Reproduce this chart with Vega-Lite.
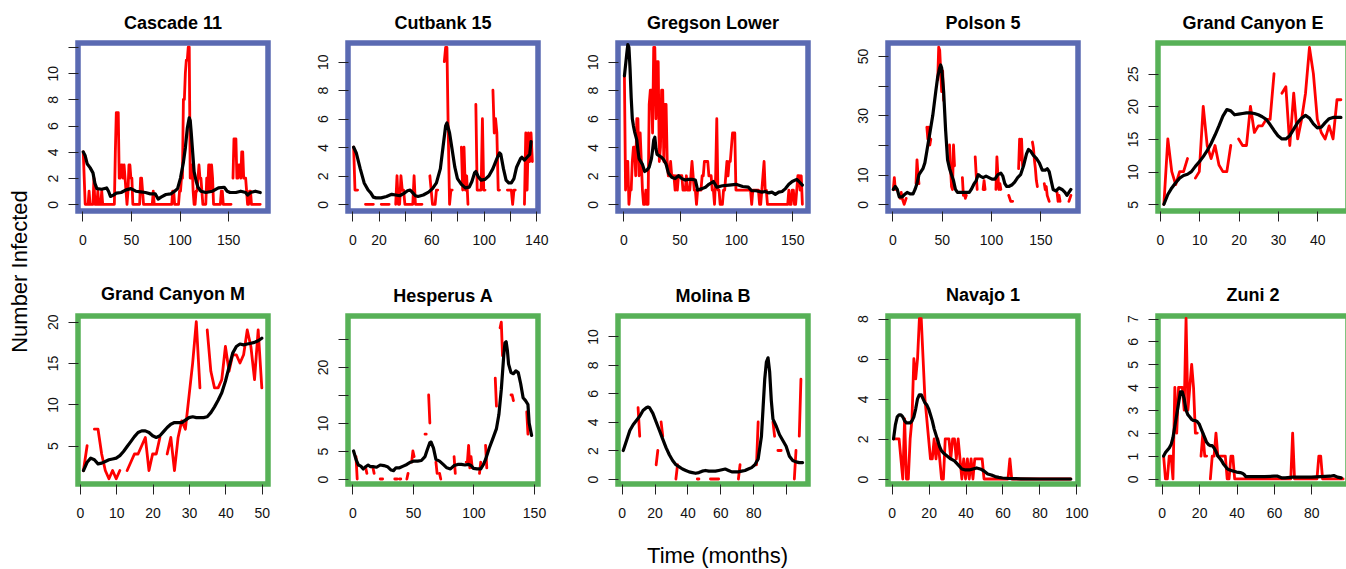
{
"$schema": "https://vega.github.io/schema/vega-lite/v6.json",
"background": "white",
"padding": {"left": 5, "top": 12, "right": 0, "bottom": 0},
"autosize": {"type": "pad"},
"columns": 5,
"spacing": {"row": 105, "column": 80},
"bounds": "flush",
"datasets": {
"r1": [{"t":1,"v":4},{"t":2,"v":2},{"t":3,"v":0},{"t":6,"v":0},{"t":7,"v":1},{"t":8,"v":0},{"t":11,"v":0},{"t":12,"v":2},{"t":13,"v":0},{"t":15,"v":0},{"t":16,"v":1},{"t":17,"v":0},{"t":19,"v":0},{"t":20,"v":1},{"t":21,"v":0},{"t":33,"v":0},{"t":34,"v":4},{"t":35,"v":7},{"t":36,"v":7},{"t":37,"v":7},{"t":38,"v":2},{"t":39,"v":2},{"t":40,"v":3},{"t":41,"v":3},{"t":42,"v":2},{"t":43,"v":3},{"t":44,"v":2},{"t":45,"v":1},{"t":46,"v":0},{"t":47,"v":1},{"t":48,"v":3},{"t":49,"v":3},{"t":50,"v":2},{"t":51,"v":2},{"t":52,"v":0},{"t":59,"v":0},{"t":60,"v":2},{"t":61,"v":2},{"t":62,"v":1},{"t":63,"v":0},{"t":72,"v":0},{"t":73,"v":1},{"t":74,"v":0},{"t":92,"v":0},{"t":93,"v":1},{"t":94,"v":1},{"t":95,"v":0},{"t":99,"v":0},{"t":100,"v":1},{"t":101,"v":1},{"t":102,"v":2},{"t":103,"v":2},{"t":104,"v":8},{"t":105,"v":8},{"t":106,"v":10},{"t":107,"v":11},{"t":108,"v":11},{"t":109,"v":12},{"t":110,"v":12},{"t":111,"v":2},{"t":112,"v":2},{"t":113,"v":3},{"t":114,"v":1},{"t":115,"v":0},{"t":116,"v":0},{"t":117,"v":1},{"t":118,"v":1},{"t":119,"v":2},{"t":120,"v":3},{"t":121,"v":2},{"t":122,"v":2},{"t":123,"v":1},{"t":124,"v":0},{"t":127,"v":0},{"t":128,"v":2},{"t":129,"v":1},{"t":130,"v":3},{"t":131,"v":3},{"t":132,"v":1},{"t":133,"v":3},{"t":134,"v":2},{"t":135,"v":0},{"t":142,"v":0},{"t":143,"v":1},{"t":144,"v":1},{"t":145,"v":0},{"t":153,"v":0},{"t":154,"v":null},{"t":155,"v":2},{"t":156,"v":5},{"t":157,"v":5},{"t":158,"v":5},{"t":159,"v":2},{"t":160,"v":2},{"t":161,"v":3},{"t":162,"v":3},{"t":163,"v":2},{"t":164,"v":4},{"t":165,"v":4},{"t":166,"v":2},{"t":167,"v":2},{"t":168,"v":2},{"t":169,"v":1},{"t":170,"v":0},{"t":171,"v":0},{"t":172,"v":1},{"t":173,"v":1},{"t":174,"v":0},{"t":183,"v":0}],
"b1": [{"t":1,"v":4},{"t":3,"v":3.7},{"t":5,"v":3.1},{"t":8,"v":2.8},{"t":11,"v":2.4},{"t":13,"v":1.6},{"t":15,"v":1.2},{"t":20,"v":1.15},{"t":25,"v":1.25},{"t":27,"v":1.0},{"t":29,"v":0.6},{"t":32,"v":0.7},{"t":35,"v":0.85},{"t":40,"v":0.9},{"t":45,"v":1.1},{"t":50,"v":1.2},{"t":55,"v":1.0},{"t":60,"v":0.95},{"t":65,"v":0.9},{"t":70,"v":0.8},{"t":75,"v":0.8},{"t":78,"v":0.4},{"t":81,"v":0.55},{"t":86,"v":0.75},{"t":91,"v":0.8},{"t":95,"v":1.0},{"t":98,"v":1.2},{"t":101,"v":2.0},{"t":104,"v":3.2},{"t":106,"v":4.3},{"t":108,"v":5.8},{"t":110,"v":6.6},{"t":111,"v":6.4},{"t":112,"v":5.5},{"t":113,"v":4.5},{"t":115,"v":2.5},{"t":117,"v":1.8},{"t":119,"v":1.3},{"t":122,"v":1.0},{"t":127,"v":0.9},{"t":134,"v":1.0},{"t":140,"v":1.25},{"t":146,"v":1.3},{"t":149,"v":1.0},{"t":152,"v":0.9},{"t":158,"v":0.9},{"t":163,"v":1.0},{"t":168,"v":0.9},{"t":170,"v":0.7},{"t":173,"v":0.9},{"t":178,"v":1.0},{"t":183,"v":0.9}],
"r2": [{"t":1,"v":4},{"t":2,"v":1},{"t":3,"v":1},{"t":4,"v":1},{"t":5,"v":null},{"t":10,"v":0},{"t":16,"v":0},{"t":17,"v":null},{"t":22,"v":0},{"t":28,"v":0},{"t":29,"v":null},{"t":33,"v":0},{"t":34,"v":2},{"t":35,"v":0},{"t":36,"v":0},{"t":37,"v":2},{"t":38,"v":1},{"t":39,"v":1},{"t":40,"v":0},{"t":46,"v":0},{"t":47,"v":2},{"t":48,"v":0},{"t":53,"v":0},{"t":54,"v":null},{"t":59,"v":2},{"t":60,"v":1},{"t":61,"v":0},{"t":63,"v":0},{"t":64,"v":1},{"t":65,"v":1},{"t":66,"v":null},{"t":70,"v":10},{"t":71,"v":11},{"t":72,"v":11},{"t":73,"v":5},{"t":74,"v":0},{"t":75,"v":1},{"t":76,"v":1},{"t":77,"v":null},{"t":83,"v":4},{"t":84,"v":1},{"t":85,"v":4},{"t":86,"v":1},{"t":87,"v":2},{"t":88,"v":0},{"t":89,"v":null},{"t":94,"v":7},{"t":95,"v":1},{"t":96,"v":1},{"t":97,"v":1},{"t":98,"v":1},{"t":99,"v":6},{"t":100,"v":1},{"t":101,"v":1},{"t":102,"v":null},{"t":107,"v":8},{"t":108,"v":5},{"t":109,"v":6},{"t":110,"v":5},{"t":111,"v":1},{"t":112,"v":1},{"t":113,"v":null},{"t":118,"v":1},{"t":121,"v":1},{"t":122,"v":0},{"t":123,"v":1},{"t":124,"v":1},{"t":125,"v":null},{"t":131,"v":0},{"t":132,"v":5},{"t":133,"v":1},{"t":134,"v":5},{"t":135,"v":3},{"t":136,"v":5},{"t":137,"v":3}],
"b2": [{"t":1,"v":4},{"t":3,"v":3.6},{"t":6,"v":2.5},{"t":9,"v":1.5},{"t":12,"v":1.0},{"t":14,"v":0.8},{"t":16,"v":0.5},{"t":18,"v":0.45},{"t":22,"v":0.45},{"t":26,"v":0.55},{"t":30,"v":0.7},{"t":33,"v":0.65},{"t":36,"v":0.6},{"t":39,"v":0.75},{"t":42,"v":0.95},{"t":44,"v":1.0},{"t":46,"v":0.8},{"t":48,"v":0.6},{"t":50,"v":0.55},{"t":54,"v":0.65},{"t":58,"v":0.85},{"t":61,"v":1.1},{"t":64,"v":1.5},{"t":67,"v":2.5},{"t":69,"v":4.0},{"t":71,"v":5.5},{"t":72,"v":5.7},{"t":74,"v":5.0},{"t":76,"v":3.8},{"t":78,"v":2.6},{"t":80,"v":1.8},{"t":83,"v":1.4},{"t":86,"v":1.15},{"t":89,"v":1.2},{"t":91,"v":1.6},{"t":93,"v":2.2},{"t":94,"v":2.3},{"t":96,"v":1.9},{"t":98,"v":1.7},{"t":101,"v":1.75},{"t":104,"v":2.0},{"t":107,"v":2.5},{"t":110,"v":3.2},{"t":112,"v":3.6},{"t":113,"v":3.5},{"t":115,"v":2.5},{"t":117,"v":1.7},{"t":119,"v":1.5},{"t":121,"v":1.5},{"t":123,"v":1.8},{"t":125,"v":2.6},{"t":128,"v":3.2},{"t":129,"v":3.3},{"t":131,"v":3.1},{"t":133,"v":3.3},{"t":135,"v":3.5},{"t":136,"v":4.4}],
"r3": [{"t":1,"v":9},{"t":2,"v":1},{"t":3,"v":3},{"t":4,"v":3},{"t":5,"v":0},{"t":6,"v":1},{"t":7,"v":1},{"t":8,"v":3},{"t":9,"v":4},{"t":10,"v":4},{"t":11,"v":2},{"t":12,"v":6},{"t":13,"v":6},{"t":14,"v":2},{"t":15,"v":5},{"t":16,"v":3},{"t":17,"v":1},{"t":18,"v":0},{"t":19,"v":0},{"t":20,"v":1},{"t":21,"v":0},{"t":22,"v":0},{"t":23,"v":7},{"t":24,"v":8},{"t":25,"v":8},{"t":26,"v":5},{"t":27,"v":11},{"t":28,"v":11},{"t":29,"v":6},{"t":30,"v":10},{"t":31,"v":10},{"t":32,"v":3},{"t":33,"v":4},{"t":34,"v":8},{"t":35,"v":8},{"t":36,"v":3},{"t":37,"v":7},{"t":38,"v":7},{"t":39,"v":3},{"t":40,"v":2},{"t":41,"v":2},{"t":42,"v":3},{"t":43,"v":2},{"t":44,"v":2},{"t":45,"v":2},{"t":46,"v":1},{"t":47,"v":2},{"t":48,"v":1},{"t":49,"v":2},{"t":50,"v":2},{"t":51,"v":2},{"t":52,"v":2},{"t":53,"v":1},{"t":54,"v":1},{"t":55,"v":1},{"t":56,"v":2},{"t":57,"v":1},{"t":58,"v":1},{"t":59,"v":1},{"t":60,"v":2},{"t":61,"v":3},{"t":62,"v":2},{"t":63,"v":1},{"t":64,"v":1},{"t":65,"v":0},{"t":66,"v":1},{"t":67,"v":1},{"t":68,"v":1},{"t":69,"v":1},{"t":70,"v":2},{"t":71,"v":2},{"t":72,"v":3},{"t":73,"v":3},{"t":74,"v":3},{"t":75,"v":3},{"t":76,"v":2},{"t":77,"v":2},{"t":78,"v":2},{"t":79,"v":1},{"t":80,"v":1},{"t":81,"v":0},{"t":82,"v":2},{"t":83,"v":6},{"t":84,"v":1},{"t":85,"v":1},{"t":86,"v":0},{"t":88,"v":0},{"t":89,"v":1},{"t":90,"v":1},{"t":91,"v":2},{"t":92,"v":3},{"t":93,"v":2},{"t":94,"v":3},{"t":95,"v":3},{"t":96,"v":4},{"t":97,"v":5},{"t":98,"v":5},{"t":99,"v":5},{"t":100,"v":1},{"t":113,"v":1},{"t":114,"v":0},{"t":115,"v":1},{"t":120,"v":1},{"t":121,"v":0},{"t":122,"v":0},{"t":123,"v":1},{"t":124,"v":2},{"t":125,"v":3},{"t":126,"v":1},{"t":127,"v":1},{"t":128,"v":0},{"t":146,"v":0},{"t":147,"v":1},{"t":148,"v":0},{"t":149,"v":0},{"t":150,"v":1},{"t":151,"v":1},{"t":152,"v":0},{"t":153,"v":0},{"t":154,"v":1},{"t":155,"v":2},{"t":156,"v":2},{"t":157,"v":1},{"t":158,"v":2},{"t":159,"v":0}],
"b3": [{"t":1,"v":9},{"t":3,"v":10.5},{"t":4,"v":11.2},{"t":5,"v":11},{"t":6,"v":9.5},{"t":7,"v":7.5},{"t":8,"v":6},{"t":9,"v":5.5},{"t":10,"v":5.1},{"t":12,"v":4.5},{"t":13,"v":3.8},{"t":14,"v":3.2},{"t":17,"v":2.8},{"t":19,"v":2.3},{"t":21,"v":2.4},{"t":23,"v":2.6},{"t":25,"v":3.2},{"t":26,"v":3.8},{"t":27,"v":4.5},{"t":28,"v":4.7},{"t":29,"v":3.9},{"t":30,"v":3.5},{"t":32,"v":3.4},{"t":34,"v":3.3},{"t":36,"v":3.1},{"t":38,"v":2.8},{"t":40,"v":2.2},{"t":43,"v":1.9},{"t":46,"v":1.8},{"t":49,"v":2.0},{"t":52,"v":1.8},{"t":55,"v":1.7},{"t":58,"v":1.75},{"t":61,"v":1.75},{"t":64,"v":1.7},{"t":66,"v":1.0},{"t":70,"v":1.1},{"t":73,"v":1.2},{"t":76,"v":1.4},{"t":80,"v":1.6},{"t":83,"v":1.2},{"t":88,"v":1.3},{"t":94,"v":1.35},{"t":100,"v":1.4},{"t":106,"v":1.25},{"t":111,"v":1.2},{"t":114,"v":0.95},{"t":118,"v":0.95},{"t":123,"v":0.85},{"t":126,"v":0.9},{"t":129,"v":0.8},{"t":132,"v":0.85},{"t":135,"v":0.7},{"t":138,"v":0.85},{"t":141,"v":0.9},{"t":144,"v":1.1},{"t":147,"v":1.4},{"t":150,"v":1.6},{"t":154,"v":1.75},{"t":156,"v":1.6},{"t":159,"v":1.35}],
"r4": [{"t":1,"v":5},{"t":2,"v":9},{"t":3,"v":5},{"t":4,"v":null},{"t":7,"v":3},{"t":8,"v":2},{"t":9,"v":4},{"t":10,"v":2},{"t":11,"v":1},{"t":12,"v":0},{"t":13,"v":1},{"t":14,"v":2},{"t":15,"v":null},{"t":24,"v":7},{"t":25,"v":15},{"t":26,"v":10},{"t":27,"v":7},{"t":28,"v":null},{"t":35,"v":26},{"t":36,"v":22},{"t":37,"v":26},{"t":38,"v":20},{"t":39,"v":22},{"t":40,"v":null},{"t":46,"v":42},{"t":47,"v":53},{"t":48,"v":52},{"t":49,"v":45},{"t":50,"v":38},{"t":51,"v":45},{"t":52,"v":35},{"t":53,"v":null},{"t":58,"v":20},{"t":59,"v":12},{"t":60,"v":6},{"t":61,"v":5},{"t":62,"v":20},{"t":63,"v":13},{"t":64,"v":null},{"t":71,"v":9},{"t":72,"v":3},{"t":73,"v":4},{"t":74,"v":2},{"t":75,"v":3},{"t":76,"v":null},{"t":84,"v":16},{"t":85,"v":10},{"t":86,"v":5},{"t":87,"v":null},{"t":92,"v":5},{"t":93,"v":8},{"t":94,"v":5},{"t":95,"v":null},{"t":105,"v":5},{"t":106,"v":16},{"t":107,"v":10},{"t":108,"v":5},{"t":109,"v":7},{"t":110,"v":5},{"t":111,"v":null},{"t":118,"v":3},{"t":119,"v":2},{"t":120,"v":1},{"t":121,"v":1},{"t":122,"v":1},{"t":123,"v":null},{"t":128,"v":12},{"t":129,"v":22},{"t":130,"v":15},{"t":131,"v":22},{"t":132,"v":13},{"t":133,"v":null},{"t":142,"v":21},{"t":143,"v":19},{"t":144,"v":15},{"t":145,"v":12},{"t":146,"v":8},{"t":147,"v":6},{"t":148,"v":null},{"t":154,"v":7},{"t":155,"v":5},{"t":156,"v":6},{"t":157,"v":3},{"t":158,"v":2},{"t":159,"v":1},{"t":160,"v":null},{"t":167,"v":4},{"t":168,"v":1},{"t":169,"v":3},{"t":170,"v":1},{"t":171,"v":null},{"t":179,"v":1},{"t":180,"v":2},{"t":181,"v":3}],
"b4": [{"t":1,"v":5},{"t":3,"v":6},{"t":5,"v":5},{"t":7,"v":2.5},{"t":10,"v":2.5},{"t":13,"v":3.5},{"t":15,"v":4},{"t":18,"v":3.5},{"t":21,"v":3.5},{"t":23,"v":5},{"t":25,"v":7},{"t":27,"v":10},{"t":29,"v":11},{"t":31,"v":12},{"t":33,"v":14},{"t":35,"v":18},{"t":38,"v":24},{"t":41,"v":30},{"t":44,"v":38},{"t":46,"v":43},{"t":48,"v":46},{"t":49,"v":47},{"t":50,"v":46},{"t":52,"v":38},{"t":54,"v":25},{"t":56,"v":15},{"t":58,"v":12},{"t":60,"v":10},{"t":62,"v":8},{"t":64,"v":5},{"t":66,"v":4},{"t":70,"v":4},{"t":74,"v":4},{"t":78,"v":4},{"t":80,"v":5},{"t":83,"v":7},{"t":85,"v":8},{"t":87,"v":10},{"t":89,"v":9.5},{"t":92,"v":9},{"t":95,"v":9.5},{"t":98,"v":9},{"t":101,"v":8.5},{"t":104,"v":8.5},{"t":107,"v":10},{"t":110,"v":10.5},{"t":112,"v":9.5},{"t":114,"v":7},{"t":116,"v":6},{"t":118,"v":6},{"t":121,"v":6.5},{"t":124,"v":7.5},{"t":127,"v":9},{"t":130,"v":10},{"t":133,"v":13},{"t":136,"v":17},{"t":138,"v":18.5},{"t":140,"v":18},{"t":143,"v":16.5},{"t":146,"v":15.5},{"t":149,"v":14},{"t":152,"v":11.5},{"t":155,"v":11.5},{"t":157,"v":12},{"t":159,"v":11},{"t":161,"v":8},{"t":163,"v":5},{"t":166,"v":4.5},{"t":169,"v":5.5},{"t":172,"v":5},{"t":175,"v":4},{"t":177,"v":3},{"t":179,"v":4},{"t":181,"v":5}],
"r5": [{"t":1,"v":5},{"t":2,"v":15},{"t":3,"v":10},{"t":4,"v":8},{"t":5,"v":10},{"t":6,"v":10},{"t":7,"v":12},{"t":8,"v":null},{"t":9,"v":9},{"t":10,"v":10},{"t":11,"v":20},{"t":12,"v":14},{"t":13,"v":12},{"t":14,"v":14},{"t":15,"v":11},{"t":16,"v":10},{"t":17,"v":10},{"t":18,"v":14},{"t":19,"v":null},{"t":20,"v":15},{"t":21,"v":14},{"t":22,"v":14},{"t":23,"v":20},{"t":24,"v":16},{"t":25,"v":17},{"t":26,"v":17},{"t":27,"v":18},{"t":28,"v":18},{"t":29,"v":25},{"t":30,"v":null},{"t":31,"v":22},{"t":32,"v":23},{"t":33,"v":14},{"t":34,"v":22},{"t":35,"v":15},{"t":36,"v":18},{"t":37,"v":22},{"t":38,"v":29},{"t":39,"v":25},{"t":40,"v":18},{"t":41,"v":16},{"t":42,"v":15},{"t":43,"v":17},{"t":44,"v":15},{"t":45,"v":21},{"t":46,"v":21}],
"b5": [{"t":1,"v":5},{"t":2,"v":6.5},{"t":3,"v":7.5},{"t":4,"v":8.3},{"t":5,"v":9},{"t":6,"v":9.4},{"t":7,"v":9.6},{"t":8,"v":10},{"t":9,"v":10.8},{"t":10,"v":11.5},{"t":11,"v":12.3},{"t":12,"v":13.2},{"t":13,"v":14.3},{"t":14,"v":15.6},{"t":15,"v":17},{"t":16,"v":18.5},{"t":17,"v":19.5},{"t":18,"v":19.3},{"t":19,"v":18.7},{"t":20,"v":18.8},{"t":21,"v":18.9},{"t":22,"v":19},{"t":23,"v":19},{"t":24,"v":18.9},{"t":25,"v":18.7},{"t":26,"v":18.4},{"t":27,"v":18},{"t":28,"v":17.2},{"t":29,"v":16.3},{"t":30,"v":15.5},{"t":31,"v":15},{"t":32,"v":15},{"t":33,"v":15.5},{"t":34,"v":16.5},{"t":35,"v":17.5},{"t":36,"v":18.2},{"t":37,"v":18.6},{"t":38,"v":18.2},{"t":39,"v":17.3},{"t":40,"v":16.7},{"t":41,"v":16.8},{"t":42,"v":17.5},{"t":43,"v":18.1},{"t":44,"v":18.3},{"t":45,"v":18.3},{"t":46,"v":18.3}],
"r6": [{"t":1,"v":2},{"t":2,"v":5},{"t":3,"v":null},{"t":4,"v":7},{"t":5,"v":7},{"t":6,"v":4},{"t":7,"v":2},{"t":8,"v":1},{"t":9,"v":2},{"t":10,"v":1},{"t":11,"v":2},{"t":12,"v":null},{"t":13,"v":2},{"t":14,"v":3},{"t":15,"v":4},{"t":16,"v":4},{"t":17,"v":5},{"t":18,"v":6},{"t":19,"v":2},{"t":20,"v":4},{"t":21,"v":4},{"t":22,"v":6},{"t":23,"v":null},{"t":24,"v":4},{"t":25,"v":6},{"t":26,"v":2},{"t":27,"v":6},{"t":28,"v":8},{"t":29,"v":7},{"t":30,"v":11},{"t":31,"v":15},{"t":32,"v":20},{"t":33,"v":12},{"t":34,"v":null},{"t":35,"v":19},{"t":36,"v":14},{"t":37,"v":12},{"t":38,"v":12},{"t":39,"v":13},{"t":40,"v":17},{"t":41,"v":14},{"t":42,"v":16},{"t":43,"v":16},{"t":44,"v":15},{"t":45,"v":16},{"t":46,"v":19},{"t":47,"v":17},{"t":48,"v":13},{"t":49,"v":19},{"t":50,"v":12}],
"b6": [{"t":1,"v":2},{"t":2,"v":3},{"t":3,"v":3.5},{"t":4,"v":3.3},{"t":5,"v":2.8},{"t":6,"v":2.9},{"t":7,"v":3.1},{"t":8,"v":3.3},{"t":9,"v":3.4},{"t":10,"v":3.5},{"t":11,"v":3.8},{"t":12,"v":4.3},{"t":13,"v":4.9},{"t":14,"v":5.5},{"t":15,"v":6.1},{"t":16,"v":6.6},{"t":17,"v":6.8},{"t":18,"v":6.8},{"t":19,"v":6.6},{"t":20,"v":6.2},{"t":21,"v":6.0},{"t":22,"v":6.2},{"t":23,"v":6.7},{"t":24,"v":7.2},{"t":25,"v":7.6},{"t":26,"v":7.8},{"t":27,"v":7.8},{"t":28,"v":7.8},{"t":29,"v":8.1},{"t":30,"v":8.4},{"t":31,"v":8.5},{"t":32,"v":8.4},{"t":33,"v":8.4},{"t":34,"v":8.4},{"t":35,"v":8.5},{"t":36,"v":9.0},{"t":37,"v":9.7},{"t":38,"v":10.5},{"t":39,"v":11.4},{"t":40,"v":12.8},{"t":41,"v":14.5},{"t":42,"v":16.2},{"t":43,"v":17.0},{"t":44,"v":17.3},{"t":45,"v":17.2},{"t":46,"v":17.3},{"t":47,"v":17.4},{"t":48,"v":17.5},{"t":49,"v":17.7},{"t":50,"v":18}],
"r7": [{"t":3,"v":4},{"t":4,"v":0},{"t":5,"v":null},{"t":11,"v":2},{"t":12,"v":1},{"t":13,"v":null},{"t":17,"v":2},{"t":18,"v":1},{"t":19,"v":null},{"t":23,"v":0},{"t":25,"v":0},{"t":26,"v":null},{"t":35,"v":0},{"t":37,"v":0},{"t":38,"v":null},{"t":39,"v":0},{"t":40,"v":0},{"t":41,"v":null},{"t":45,"v":0},{"t":46,"v":1},{"t":47,"v":null},{"t":49,"v":3},{"t":50,"v":5},{"t":51,"v":4},{"t":52,"v":null},{"t":60,"v":8},{"t":61,"v":8},{"t":62,"v":null},{"t":63,"v":15},{"t":64,"v":10},{"t":65,"v":null},{"t":69,"v":3},{"t":70,"v":1},{"t":71,"v":null},{"t":72,"v":1},{"t":73,"v":0},{"t":74,"v":null},{"t":84,"v":4},{"t":85,"v":1},{"t":86,"v":null},{"t":94,"v":3},{"t":95,"v":3},{"t":96,"v":6},{"t":97,"v":2},{"t":98,"v":4},{"t":99,"v":2},{"t":100,"v":null},{"t":105,"v":1},{"t":106,"v":3},{"t":107,"v":null},{"t":110,"v":6},{"t":111,"v":2},{"t":112,"v":null},{"t":118,"v":18},{"t":119,"v":13},{"t":120,"v":null},{"t":122,"v":27},{"t":123,"v":28},{"t":124,"v":22},{"t":125,"v":null},{"t":131,"v":15},{"t":132,"v":15},{"t":133,"v":14},{"t":134,"v":null},{"t":144,"v":12},{"t":145,"v":8}],
"b7": [{"t":1,"v":5},{"t":3,"v":3.5},{"t":5,"v":2.5},{"t":7,"v":2.3},{"t":9,"v":1.8},{"t":11,"v":2.2},{"t":13,"v":2.5},{"t":15,"v":2.2},{"t":17,"v":2.2},{"t":20,"v":2.1},{"t":23,"v":2.5},{"t":26,"v":2.4},{"t":29,"v":2.2},{"t":32,"v":1.6},{"t":34,"v":1.5},{"t":36,"v":2.0},{"t":39,"v":2.0},{"t":42,"v":2.3},{"t":45,"v":2.6},{"t":48,"v":3.0},{"t":51,"v":3.2},{"t":54,"v":3.2},{"t":57,"v":3.3},{"t":60,"v":4.0},{"t":62,"v":5.3},{"t":64,"v":6.5},{"t":65,"v":6.6},{"t":67,"v":5.5},{"t":69,"v":3.5},{"t":72,"v":3.2},{"t":75,"v":2.6},{"t":78,"v":2.0},{"t":81,"v":1.8},{"t":84,"v":2.4},{"t":87,"v":2.6},{"t":90,"v":2.6},{"t":93,"v":2.5},{"t":96,"v":2.6},{"t":98,"v":2.4},{"t":100,"v":1.9},{"t":103,"v":1.8},{"t":106,"v":1.8},{"t":108,"v":2.5},{"t":110,"v":3.5},{"t":113,"v":5.5},{"t":116,"v":7.2},{"t":119,"v":9.0},{"t":121,"v":11.5},{"t":123,"v":16},{"t":125,"v":22},{"t":126,"v":24.3},{"t":127,"v":24.5},{"t":128,"v":23},{"t":129,"v":20.5},{"t":131,"v":19},{"t":133,"v":18.8},{"t":135,"v":19.3},{"t":137,"v":19.0},{"t":139,"v":17},{"t":141,"v":14.5},{"t":143,"v":14.0},{"t":145,"v":13.3},{"t":146,"v":10},{"t":148,"v":7.8}],
"r8": [{"t":10,"v":5},{"t":11,"v":3},{"t":12,"v":null},{"t":21,"v":1},{"t":22,"v":2},{"t":23,"v":null},{"t":24,"v":4},{"t":25,"v":3},{"t":26,"v":null},{"t":33,"v":0},{"t":34,"v":1},{"t":35,"v":null},{"t":46,"v":0},{"t":47,"v":0},{"t":48,"v":null},{"t":54,"v":0},{"t":59,"v":0},{"t":60,"v":null},{"t":71,"v":0},{"t":72,"v":1},{"t":73,"v":null},{"t":82,"v":1},{"t":83,"v":4},{"t":84,"v":null},{"t":92,"v":4},{"t":93,"v":3},{"t":94,"v":null},{"t":95,"v":2},{"t":97,"v":2},{"t":98,"v":null},{"t":105,"v":0},{"t":106,"v":2},{"t":107,"v":null},{"t":108,"v":3},{"t":109,"v":7}],
"b8": [{"t":1,"v":2},{"t":3,"v":2.7},{"t":5,"v":3.4},{"t":7,"v":3.8},{"t":9,"v":4.1},{"t":11,"v":4.4},{"t":13,"v":4.8},{"t":15,"v":5.0},{"t":16,"v":5.05},{"t":17,"v":5.0},{"t":19,"v":4.6},{"t":21,"v":4.0},{"t":23,"v":3.4},{"t":25,"v":2.8},{"t":27,"v":2.2},{"t":29,"v":1.7},{"t":31,"v":1.3},{"t":33,"v":1.0},{"t":35,"v":0.85},{"t":37,"v":0.7},{"t":39,"v":0.6},{"t":41,"v":0.5},{"t":43,"v":0.45},{"t":45,"v":0.4},{"t":47,"v":0.45},{"t":49,"v":0.55},{"t":51,"v":0.6},{"t":53,"v":0.55},{"t":55,"v":0.55},{"t":57,"v":0.55},{"t":59,"v":0.6},{"t":61,"v":0.65},{"t":63,"v":0.7},{"t":65,"v":0.6},{"t":67,"v":0.5},{"t":69,"v":0.5},{"t":71,"v":0.5},{"t":73,"v":0.55},{"t":75,"v":0.6},{"t":77,"v":0.7},{"t":79,"v":0.8},{"t":81,"v":1.0},{"t":83,"v":1.4},{"t":85,"v":3.0},{"t":86,"v":5.0},{"t":87,"v":7.0},{"t":88,"v":8.2},{"t":89,"v":8.5},{"t":90,"v":7.5},{"t":91,"v":5.5},{"t":92,"v":4.2},{"t":94,"v":3.7},{"t":96,"v":3.1},{"t":98,"v":2.7},{"t":100,"v":2.3},{"t":102,"v":1.6},{"t":104,"v":1.3},{"t":106,"v":1.2},{"t":108,"v":1.15},{"t":110,"v":1.15}],
"r9": [{"t":1,"v":2},{"t":2,"v":2},{"t":3,"v":2},{"t":4,"v":2},{"t":5,"v":1},{"t":6,"v":0},{"t":7,"v":3},{"t":8,"v":0},{"t":9,"v":0},{"t":10,"v":2},{"t":11,"v":3},{"t":12,"v":6},{"t":13,"v":5},{"t":14,"v":6},{"t":15,"v":8},{"t":16,"v":8},{"t":17,"v":6},{"t":18,"v":4},{"t":19,"v":3},{"t":20,"v":2},{"t":21,"v":1},{"t":22,"v":1},{"t":23,"v":2},{"t":24,"v":1},{"t":25,"v":2},{"t":26,"v":1},{"t":27,"v":0},{"t":28,"v":0},{"t":29,"v":2},{"t":30,"v":2},{"t":31,"v":2},{"t":32,"v":1},{"t":33,"v":2},{"t":34,"v":2},{"t":35,"v":1},{"t":36,"v":2},{"t":37,"v":1},{"t":38,"v":0},{"t":39,"v":1},{"t":40,"v":0},{"t":41,"v":1},{"t":42,"v":0},{"t":43,"v":1},{"t":44,"v":0},{"t":45,"v":1},{"t":46,"v":1},{"t":47,"v":1},{"t":48,"v":1},{"t":49,"v":1},{"t":50,"v":0},{"t":63,"v":0},{"t":64,"v":1},{"t":65,"v":0},{"t":97,"v":0}],
"b9": [{"t":1,"v":2},{"t":2,"v":2.7},{"t":3,"v":3.1},{"t":4,"v":3.2},{"t":5,"v":3.2},{"t":6,"v":3.1},{"t":7,"v":2.9},{"t":8,"v":2.8},{"t":9,"v":2.8},{"t":10,"v":2.8},{"t":11,"v":2.9},{"t":12,"v":3.1},{"t":13,"v":3.5},{"t":14,"v":4.0},{"t":15,"v":4.2},{"t":16,"v":4.2},{"t":17,"v":4.0},{"t":18,"v":3.8},{"t":19,"v":3.7},{"t":20,"v":3.5},{"t":21,"v":3.2},{"t":22,"v":2.9},{"t":23,"v":2.5},{"t":24,"v":2.2},{"t":25,"v":1.9},{"t":26,"v":1.6},{"t":27,"v":1.4},{"t":28,"v":1.3},{"t":30,"v":1.15},{"t":32,"v":1.0},{"t":34,"v":0.9},{"t":36,"v":0.7},{"t":38,"v":0.5},{"t":40,"v":0.45},{"t":42,"v":0.45},{"t":44,"v":0.5},{"t":46,"v":0.55},{"t":48,"v":0.5},{"t":50,"v":0.4},{"t":52,"v":0.25},{"t":54,"v":0.2},{"t":56,"v":0.12},{"t":58,"v":0.08},{"t":60,"v":0.05},{"t":63,"v":0.03},{"t":66,"v":0.02},{"t":70,"v":0.01},{"t":80,"v":0},{"t":97,"v":0}],
"r10": [{"t":1,"v":1},{"t":2,"v":0},{"t":3,"v":0},{"t":4,"v":1},{"t":5,"v":1},{"t":6,"v":0},{"t":7,"v":4},{"t":8,"v":2},{"t":9,"v":4},{"t":10,"v":4},{"t":11,"v":4},{"t":12,"v":3},{"t":13,"v":7},{"t":14,"v":3},{"t":15,"v":4},{"t":16,"v":5},{"t":17,"v":4},{"t":18,"v":2},{"t":19,"v":2},{"t":20,"v":null},{"t":21,"v":1},{"t":22,"v":2},{"t":23,"v":1},{"t":24,"v":1},{"t":25,"v":null},{"t":26,"v":0},{"t":27,"v":1},{"t":28,"v":1},{"t":29,"v":2},{"t":30,"v":1},{"t":31,"v":1},{"t":32,"v":1},{"t":33,"v":1},{"t":34,"v":1},{"t":35,"v":0},{"t":36,"v":0},{"t":37,"v":1},{"t":38,"v":1},{"t":39,"v":0},{"t":69,"v":0},{"t":70,"v":2},{"t":71,"v":0},{"t":83,"v":0},{"t":84,"v":1},{"t":85,"v":1},{"t":86,"v":0},{"t":97,"v":0}],
"b10": [{"t":1,"v":1},{"t":2,"v":1.15},{"t":3,"v":1.25},{"t":4,"v":1.35},{"t":5,"v":1.5},{"t":6,"v":1.8},{"t":7,"v":2.3},{"t":8,"v":2.8},{"t":9,"v":3.3},{"t":10,"v":3.8},{"t":11,"v":3.8},{"t":12,"v":3.5},{"t":13,"v":3.0},{"t":14,"v":2.8},{"t":15,"v":2.7},{"t":16,"v":2.6},{"t":17,"v":2.55},{"t":18,"v":2.55},{"t":19,"v":2.5},{"t":20,"v":2.4},{"t":21,"v":2.2},{"t":22,"v":2.0},{"t":23,"v":1.8},{"t":24,"v":1.6},{"t":25,"v":1.5},{"t":26,"v":1.45},{"t":27,"v":1.45},{"t":28,"v":1.35},{"t":29,"v":1.2},{"t":30,"v":1.0},{"t":31,"v":0.9},{"t":32,"v":0.8},{"t":33,"v":0.65},{"t":34,"v":0.55},{"t":35,"v":0.45},{"t":36,"v":0.4},{"t":38,"v":0.35},{"t":40,"v":0.3},{"t":42,"v":0.28},{"t":43,"v":0.25},{"t":44,"v":0.2},{"t":45,"v":0.1},{"t":47,"v":0.1},{"t":50,"v":0.1},{"t":55,"v":0.1},{"t":60,"v":0.12},{"t":62,"v":0.12},{"t":64,"v":0.05},{"t":66,"v":0.05},{"t":70,"v":0.08},{"t":75,"v":0.08},{"t":80,"v":0.08},{"t":85,"v":0.1},{"t":90,"v":0.12},{"t":92,"v":0.15},{"t":94,"v":0.08},{"t":96,"v":0.05}]
},
"concat": [
{"title": "Cascade 11", "width": 190, "height": 168, "view": {"stroke": "#5A6AB2", "strokeWidth": 5.5},
 "encoding": {"x": {"field": "t", "type": "quantitative", "scale": {"domain": [-4.4, 191], "nice": false, "zero": false}, "axis": {"values": [0, 50, 100, 150], "title": null}},
  "y": {"field": "v", "type": "quantitative", "scale": {"domain": [-0.51, 12.31], "nice": false, "zero": false}, "axis": {"values": [0, 2, 4, 6, 8, 10, 12], "labelExpr": "datum.value == 12 ? '' : datum.label", "title": "Number Infected", "titleX": -59, "titleY": 228, "titleAngle": 270, "titleAlign": "center", "titleBaseline": "middle", "titleFontSize": 22, "titleFontWeight": "normal", "titleColor": "black", "titleFont": "Liberation Sans"}}},
 "layer": [{"data": {"name": "r1"}, "mark": {"type": "line", "color": "#FF0000", "strokeWidth": 2.8, "invalid": "break-paths-show-domains"}, "encoding": {}},
  {"data": {"name": "b1"}, "mark": {"type": "line", "color": "#000000", "strokeWidth": 3.2}, "encoding": {}}]},
{"title": "Cutbank 15", "width": 190, "height": 168, "view": {"stroke": "#5A6AB2", "strokeWidth": 5.5},
 "encoding": {"x": {"field": "t", "type": "quantitative", "scale": {"domain": [-3.3, 141.3], "nice": false, "zero": false}, "axis": {"values": [0, 20, 40, 60, 80, 100, 120, 140], "labelExpr": "(datum.value == 40 || datum.value == 80 || datum.value == 120) ? '' : datum.label", "title": null}},
  "y": {"field": "v", "type": "quantitative", "scale": {"domain": [-0.47, 11.31], "nice": false, "zero": false}, "axis": {"values": [0, 2, 4, 6, 8, 10], "title": null}}},
 "layer": [{"data": {"name": "r2"}, "mark": {"type": "line", "color": "#FF0000", "strokeWidth": 2.8, "invalid": "break-paths-show-domains"}, "encoding": {}},
  {"data": {"name": "b2"}, "mark": {"type": "line", "color": "#000000", "strokeWidth": 3.2}, "encoding": {}}]},
{"title": "Gregson Lower", "width": 190, "height": 168, "view": {"stroke": "#5A6AB2", "strokeWidth": 5.5},
 "encoding": {"x": {"field": "t", "type": "quantitative", "scale": {"domain": [-4.7, 164], "nice": false, "zero": false}, "axis": {"values": [0, 50, 100, 150], "title": null}},
  "y": {"field": "v", "type": "quantitative", "scale": {"domain": [-0.47, 11.31], "nice": false, "zero": false}, "axis": {"values": [0, 2, 4, 6, 8, 10], "title": null}}},
 "layer": [{"data": {"name": "r3"}, "mark": {"type": "line", "color": "#FF0000", "strokeWidth": 2.8, "invalid": "break-paths-show-domains"}, "encoding": {}},
  {"data": {"name": "b3"}, "mark": {"type": "line", "color": "#000000", "strokeWidth": 3.2}, "encoding": {}}]},
{"title": "Polson 5", "width": 190, "height": 168, "view": {"stroke": "#5A6AB2", "strokeWidth": 5.5},
 "encoding": {"x": {"field": "t", "type": "quantitative", "scale": {"domain": [-4.4, 188.2], "nice": false, "zero": false}, "axis": {"values": [0, 50, 100, 150], "title": null}},
  "y": {"field": "v", "type": "quantitative", "scale": {"domain": [-2.26, 54.4], "nice": false, "zero": false}, "axis": {"values": [0, 10, 20, 30, 40, 50], "labelExpr": "(datum.value == 20 || datum.value == 40) ? '' : datum.label", "title": null}}},
 "layer": [{"data": {"name": "r4"}, "mark": {"type": "line", "color": "#FF0000", "strokeWidth": 2.8, "invalid": "break-paths-show-domains"}, "encoding": {}},
  {"data": {"name": "b4"}, "mark": {"type": "line", "color": "#000000", "strokeWidth": 3.2}, "encoding": {}}]},
{"title": "Grand Canyon E", "width": 190, "height": 168, "view": {"stroke": "#57B157", "strokeWidth": 5.5},
 "encoding": {"x": {"field": "t", "type": "quantitative", "scale": {"domain": [-0.5, 47.8], "nice": false, "zero": false}, "axis": {"values": [0, 10, 20, 30, 40], "title": null}},
  "y": {"field": "v", "type": "quantitative", "scale": {"domain": [3.97, 29.69], "nice": false, "zero": false}, "axis": {"values": [5, 10, 15, 20, 25], "title": null}}},
 "layer": [{"data": {"name": "r5"}, "mark": {"type": "line", "color": "#FF0000", "strokeWidth": 2.8, "invalid": "break-paths-show-domains"}, "encoding": {}},
  {"data": {"name": "b5"}, "mark": {"type": "line", "color": "#000000", "strokeWidth": 3.2}, "encoding": {}}]},
{"title": "Grand Canyon M", "width": 190, "height": 168, "view": {"stroke": "#57B157", "strokeWidth": 5.5},
 "encoding": {"x": {"field": "t", "type": "quantitative", "scale": {"domain": [-0.5, 51.7], "nice": false, "zero": false}, "axis": {"values": [0, 10, 20, 30, 40, 50], "title": null}},
  "y": {"field": "v", "type": "quantitative", "scale": {"domain": [0.37, 20.69], "nice": false, "zero": false}, "axis": {"values": [5, 10, 15, 20], "title": null}}},
 "layer": [{"data": {"name": "r6"}, "mark": {"type": "line", "color": "#FF0000", "strokeWidth": 2.8, "invalid": "break-paths-show-domains"}, "encoding": {}},
  {"data": {"name": "b6"}, "mark": {"type": "line", "color": "#000000", "strokeWidth": 3.2}, "encoding": {}}]},
{"title": "Hesperus A", "width": 190, "height": 168, "view": {"stroke": "#57B157", "strokeWidth": 5.5},
 "encoding": {"x": {"field": "t", "type": "quantitative", "scale": {"domain": [-3.6, 153.3], "nice": false, "zero": false}, "axis": {"values": [0, 50, 100, 150], "title": null}},
  "y": {"field": "v", "type": "quantitative", "scale": {"domain": [-0.89, 29.1], "nice": false, "zero": false}, "axis": {"values": [0, 5, 10, 15, 20, 25], "labelExpr": "(datum.value == 15 || datum.value == 25) ? '' : datum.label", "title": null}}},
 "layer": [{"data": {"name": "r7"}, "mark": {"type": "line", "color": "#FF0000", "strokeWidth": 2.8, "invalid": "break-paths-show-domains"}, "encoding": {}},
  {"data": {"name": "b7"}, "mark": {"type": "line", "color": "#000000", "strokeWidth": 3.2}, "encoding": {}}]},
{"title": "Molina B", "width": 190, "height": 168, "view": {"stroke": "#57B157", "strokeWidth": 5.5},
 "encoding": {"x": {"field": "t", "type": "quantitative", "scale": {"domain": [-2.2, 113.3], "nice": false, "zero": false}, "axis": {"values": [0, 20, 40, 60, 80, 100], "labelExpr": "datum.value == 100 ? '' : datum.label", "title": "Time (months)", "titleX": 99, "titleY": 78, "titleAlign": "center", "titleBaseline": "alphabetic", "titleAngle": 0, "titleFontSize": 22, "titleFontWeight": "normal", "titleColor": "black", "titleFont": "Liberation Sans"}},
  "y": {"field": "v", "type": "quantitative", "scale": {"domain": [-0.35, 11.43], "nice": false, "zero": false}, "axis": {"values": [0, 2, 4, 6, 8, 10], "title": null}}},
 "layer": [{"data": {"name": "r8"}, "mark": {"type": "line", "color": "#FF0000", "strokeWidth": 2.8, "invalid": "break-paths-show-domains"}, "encoding": {}},
  {"data": {"name": "b8"}, "mark": {"type": "line", "color": "#000000", "strokeWidth": 3.2}, "encoding": {}}]},
{"title": "Navajo 1", "width": 190, "height": 168, "view": {"stroke": "#57B157", "strokeWidth": 5.5},
 "encoding": {"x": {"field": "t", "type": "quantitative", "scale": {"domain": [-2.0, 100.9], "nice": false, "zero": false}, "axis": {"values": [0, 20, 40, 60, 80, 100], "title": null}},
  "y": {"field": "v", "type": "quantitative", "scale": {"domain": [-0.25, 8.13], "nice": false, "zero": false}, "axis": {"values": [0, 2, 4, 6, 8], "title": null}}},
 "layer": [{"data": {"name": "r9"}, "mark": {"type": "line", "color": "#FF0000", "strokeWidth": 2.8, "invalid": "break-paths-show-domains"}, "encoding": {}},
  {"data": {"name": "b9"}, "mark": {"type": "line", "color": "#000000", "strokeWidth": 3.2}, "encoding": {}}]},
{"title": "Zuni 2", "width": 190, "height": 168, "view": {"stroke": "#57B157", "strokeWidth": 5.5},
 "encoding": {"x": {"field": "t", "type": "quantitative", "scale": {"domain": [-2.0, 99.6], "nice": false, "zero": false}, "axis": {"values": [0, 20, 40, 60, 80], "title": null}},
  "y": {"field": "v", "type": "quantitative", "scale": {"domain": [-0.22, 7.11], "nice": false, "zero": false}, "axis": {"values": [0, 1, 2, 3, 4, 5, 6, 7], "title": null}}},
 "layer": [{"data": {"name": "r10"}, "mark": {"type": "line", "color": "#FF0000", "strokeWidth": 2.8, "invalid": "break-paths-show-domains"}, "encoding": {}},
  {"data": {"name": "b10"}, "mark": {"type": "line", "color": "#000000", "strokeWidth": 3.2}, "encoding": {}}]}
],
"config": {
 "font": "Liberation Sans",
 "axis": {"domain": false, "grid": false, "ticks": true, "tickSize": 10, "tickColor": "#222222", "tickWidth": 1, "labelFontSize": 14, "labelColor": "#111111", "labelFont": "Liberation Sans", "labelOverlap": false, "labelFlush": false},
 "axisX": {"labelPadding": 12},
 "axisY": {"labelAngle": 270, "labelAlign": "center", "labelBaseline": "bottom", "labelPadding": 8},
 "title": {"fontSize": 18, "fontWeight": "bold", "font": "Liberation Sans", "color": "black", "offset": 10},
 "line": {"strokeCap": "round", "strokeJoin": "round", "clip": true}
}
}
